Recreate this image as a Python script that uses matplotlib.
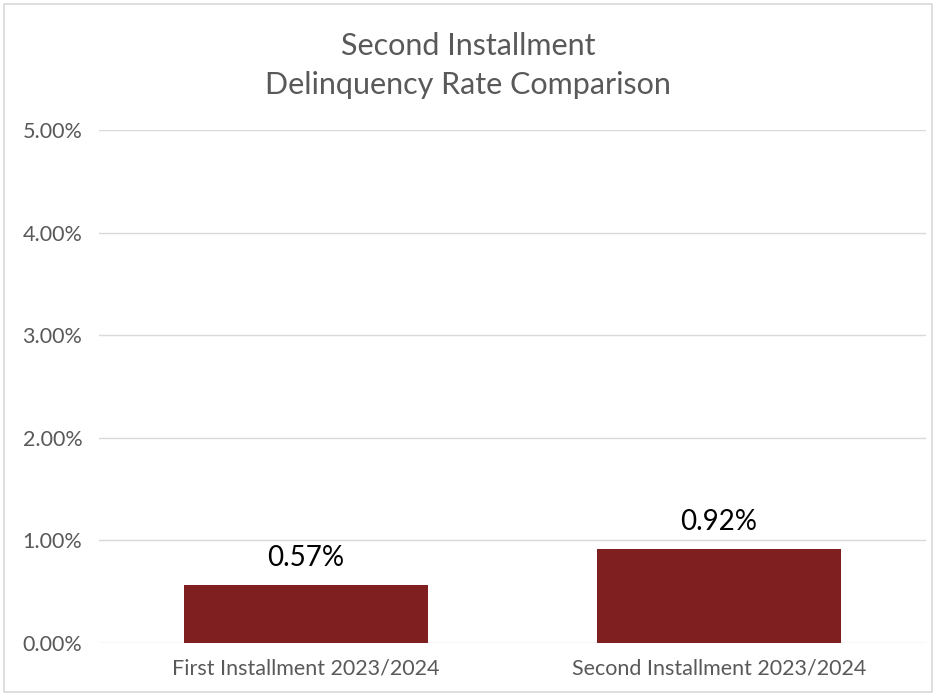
import matplotlib
matplotlib.use("Agg")
import matplotlib.pyplot as plt
from matplotlib.patches import Rectangle
from matplotlib.ticker import FuncFormatter

# data
categories = ["First Installment 2023/2024", "Second Installment 2023/2024"]
rates = [0.0057, 0.0092]
y_ticks = [0.0, 0.01, 0.02, 0.03, 0.04, 0.05]

plt.rcParams["font.family"] = ["Lato", "DejaVu Sans"]

text_gray = "#595959"
grid_gray = "#D9D9D9"
bar_color = "#7F1F1F"

fig = plt.figure(figsize=(9.36, 6.95), dpi=100)
fig.patches.append(Rectangle((0.004, 0.004), 0.992, 0.99, transform=fig.transFigure,
                             fill=False, edgecolor=grid_gray, linewidth=1.2))

ax = fig.add_axes([0.1058, 0.0748, 0.883, 0.7382])
x = range(len(categories))
bars = ax.bar(x, rates, width=0.59, color=bar_color, zorder=3)

for b, v in zip(bars, rates):
    ax.annotate(f"{v * 100:.2f}%", (b.get_x() + b.get_width() / 2, v),
                xytext=(0, 10), textcoords="offset points",
                ha="center", va="bottom", fontsize=20, color="black")

ax.set_xlim(-0.5, 1.5)
ax.set_ylim(0, 0.05)
ax.set_yticks(y_ticks)
ax.yaxis.set_major_formatter(FuncFormatter(lambda v, p: f"{v * 100:.2f}%"))
ax.set_xticks(list(x))
ax.set_xticklabels(categories)
ax.tick_params(axis="both", length=0, labelsize=15.5, colors=text_gray)
ax.tick_params(axis="y", pad=12)
ax.tick_params(axis="x", pad=11)
ax.grid(axis="y", color=grid_gray, linewidth=1, zorder=0)
for s in ax.spines.values():
    s.set_visible(False)

fig.text(0.5, 0.906, "Second Installment\nDelinquency Rate Comparison",
         ha="center", va="center", fontsize=22, color=text_gray, linespacing=1.45)

fig.savefig("out.png", dpi=100)
